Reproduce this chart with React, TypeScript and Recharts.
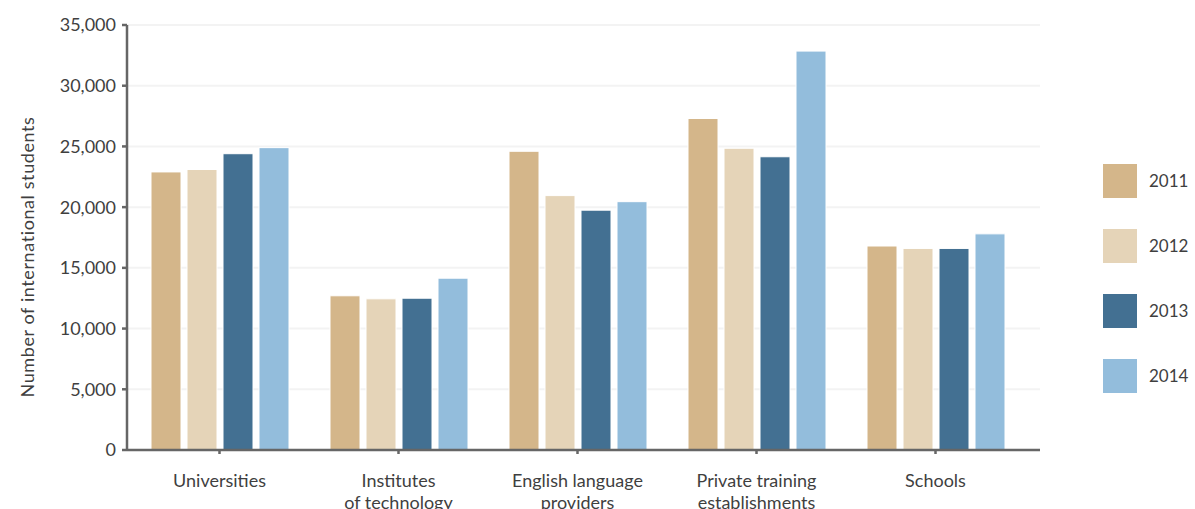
import { BarChart, Bar, XAxis, YAxis, CartesianGrid, Legend } from "recharts";

const categories = [
  "Universities",
  "Institutes\nof technology",
  "English language\nproviders",
  "Private training\nestablishments",
  "Schools",
];

const years = ["2011", "2012", "2013", "2014"];
const colors = ["#d4b68a", "#e5d4b8", "#437092", "#93bddc"];

const students2011 = [22900, 12700, 24600, 27300, 16800];
const students2012 = [23100, 12450, 20950, 24850, 16600];
const students2013 = [24400, 12500, 19750, 24150, 16600];
const students2014 = [24900, 14150, 20450, 32850, 17800];

const yTicks = [0, 5000, 10000, 15000, 20000, 25000, 30000, 35000];

const series = [students2011, students2012, students2013, students2014];

const data = categories.map((name, i) => {
  const row: Record<string, string | number> = { name };
  years.forEach((y, s) => {
    row[y] = series[s][i];
  });
  return row;
});

const FONT = "Lato, 'Open Sans', sans-serif";
const TEXT = "#3f3f3f";

// two-line category labels, split on "\n"
function CategoryTick({ x, y, payload }: any) {
  const lines = String(payload.value).split("\n");
  return (
    <text
      x={x}
      y={y + 31}
      textAnchor="middle"
      fill={TEXT}
      fontFamily={FONT}
      fontSize={18}
    >
      {lines.map((line, i) => (
        <tspan key={i} x={x} dy={i === 0 ? 0 : 22}>
          {line}
        </tspan>
      ))}
    </text>
  );
}

function YearLegend() {
  return (
    <div style={{ fontFamily: FONT, fontSize: 17, color: TEXT }}>
      {years.map((y, i) => (
        <div
          key={y}
          style={{ display: "flex", alignItems: "center", height: 65 }}
        >
          <span
            style={{
              width: 34,
              height: 34,
              background: colors[i],
              display: "inline-block",
              marginRight: 12,
            }}
          />
          <span>{y}</span>
        </div>
      ))}
    </div>
  );
}

export default function App() {
  return (
    <div style={{ position: "absolute", left: 0, top: 0, background: "#fff" }}>
      <BarChart
        width={1195}
        height={509}
        data={data}
        margin={{ top: 25, right: 155, bottom: 0, left: 0 }}
        barSize={30}
        barGap={6}
      >
        <CartesianGrid vertical={false} stroke="#f3f3f3" strokeWidth={2} />
        <XAxis
          dataKey="name"
          height={59}
          interval={0}
          padding={{ left: 3, right: 15 }}
          stroke="#666"
          strokeWidth={2.5}
          tickSize={4}
          tick={<CategoryTick />}
        />
        <YAxis
          width={127}
          domain={[0, 35000]}
          ticks={yTicks}
          stroke="#666"
          strokeWidth={2.5}
          tickSize={5}
          tickMargin={6}
          tick={{ fill: TEXT, fontFamily: FONT, fontSize: 18 }}
          tickFormatter={(v: number) => v.toLocaleString("en-US")}
          label={{
            content: () => (
              <text
                x={27}
                y={257}
                transform="rotate(-90 27 257)"
                textAnchor="middle"
                dominantBaseline="central"
                fill={TEXT}
                fontFamily={FONT}
                fontSize={18}
                letterSpacing={0.6}
              >
                Number of international students
              </text>
            ),
          }}
        />
        <Legend
          layout="horizontal"
          align="center"
          verticalAlign="middle"
          content={<YearLegend />}
          wrapperStyle={{ left: 1103, top: 148, width: 90 }}
        />
        {years.map((y, i) => (
          <Bar
            key={y}
            dataKey={y}
            fill={colors[i]}
            stroke="#fff"
            strokeWidth={1}
            isAnimationActive={false}
          />
        ))}
      </BarChart>
    </div>
  );
}
